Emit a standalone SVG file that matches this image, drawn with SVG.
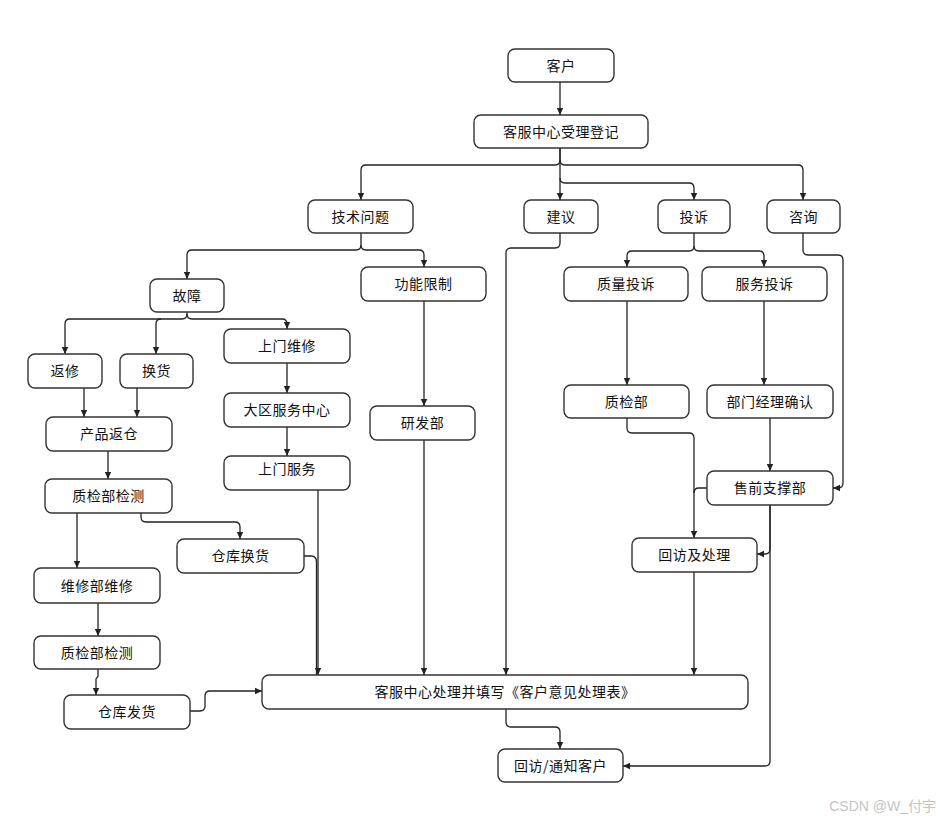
<svg xmlns="http://www.w3.org/2000/svg" width="940" height="821" viewBox="0 0 940 821">
<style>
.n rect{fill:#fff;stroke:#333;stroke-width:1.4}
.n text{font-family:"Noto Sans CJK SC","Liberation Sans",sans-serif;font-size:14px;fill:#111;text-anchor:middle;letter-spacing:0.5px}
#edges path{fill:none;stroke:#222;stroke-width:1.3}
.wm{font-family:"Liberation Sans","Noto Sans CJK SC",sans-serif;font-size:14px;fill:#c4c4c4;text-anchor:end}
</style>
<defs>
<marker id="a" markerUnits="userSpaceOnUse" markerWidth="8" markerHeight="8" refX="7" refY="4" orient="auto">
<path d="M0,0.8 L7,4 L0,7.2 z" fill="#222"/>
</marker>
</defs>
<rect width="940" height="821" fill="#fff"/>
<g id="edges">
<path d="M560,82 V115" marker-end="url(#a)"/>
<path d="M560,148 V160 Q560,165 555,165 H366 Q361,165 361,170 V200" marker-end="url(#a)"/>
<path d="M560,160 Q560,165 565,165 H798 Q803,165 803,170 V200" marker-end="url(#a)"/>
<path d="M560,148 V200" marker-end="url(#a)"/>
<path d="M560,178 Q560,183 565,183 H689 Q694,183 694,188 V200" marker-end="url(#a)"/>
<path d="M361,233 V245 Q361,250 356,250 H192 Q187,250 187,255 V279" marker-end="url(#a)"/>
<path d="M361,245 Q361,250 366,250 H419 Q424,250 424,255 V267" marker-end="url(#a)"/>
<path d="M187,312 V314 Q187,319 182,319 H70 Q65,319 65,324 V354" marker-end="url(#a)"/>
<path d="M161,319 Q156,319 156,324 V354" marker-end="url(#a)"/>
<path d="M187,314 Q187,319 192,319 H282 Q287,319 287,324 V329" marker-end="url(#a)"/>
<path d="M84,388 V417" marker-end="url(#a)"/>
<path d="M137,388 V417" marker-end="url(#a)"/>
<path d="M287,363 V393" marker-end="url(#a)"/>
<path d="M287,427 V456" marker-end="url(#a)"/>
<path d="M424,301 V406" marker-end="url(#a)"/>
<path d="M108,451 V479" marker-end="url(#a)"/>
<path d="M77,513 V568" marker-end="url(#a)"/>
<path d="M141,513 V517 Q141,522 146,522 H235 Q240,522 240,527 V539" marker-end="url(#a)"/>
<path d="M98,603 V636" marker-end="url(#a)"/>
<path d="M98,669 V676 L96,679 V695" marker-end="url(#a)"/>
<path d="M190,711 H200 Q205,711 205,706 V696 Q205,691 210,691 H262" marker-end="url(#a)"/>
<path d="M318,490 V675" marker-end="url(#a)"/>
<path d="M304,556 H311 Q316.5,556 316.5,562 V675"/>
<path d="M424,440 V675" marker-end="url(#a)"/>
<path d="M560,233 V243 Q560,248 555,248 H511 Q506,248 506,253 V675" marker-end="url(#a)"/>
<path d="M694,233 V246 Q694,251 689,251 H632 Q627,251 627,256 V267" marker-end="url(#a)"/>
<path d="M694,246 Q694,251 699,251 H759 Q764,251 764,256 V267" marker-end="url(#a)"/>
<path d="M803,233 V250 Q803,255 808,255 H838 Q843,255 843,260 V483 Q843,488 838,488 H833" marker-end="url(#a)"/>
<path d="M627,301 V385" marker-end="url(#a)"/>
<path d="M764,301 V385" marker-end="url(#a)"/>
<path d="M770,418 V471" marker-end="url(#a)"/>
<path d="M627,418 V428 Q627,433 632,433 H689 Q694,433 694,438 V538" marker-end="url(#a)"/>
<path d="M707,488 H699 Q694,488 694,493"/>
<path d="M770,505 V549 Q770,554 765,554 H757" marker-end="url(#a)"/>
<path d="M770,505 V761 Q770,766 765,766 H623" marker-end="url(#a)"/>
<path d="M694,572 V675" marker-end="url(#a)"/>
<path d="M506,709 V722 Q506,727 511,727 H555 Q560,727 560,732 V749" marker-end="url(#a)"/>
</g>
<g id="n1" class="n"><rect x="508" y="49" width="106" height="33" rx="7"/><text x="561" y="70.5">客户</text></g>
<g id="n2" class="n"><rect x="474" y="115" width="174" height="33" rx="7"/><text x="561" y="136.5">客服中心受理登记</text></g>
<g id="n3" class="n"><rect x="308" y="200" width="105" height="33" rx="7"/><text x="360.5" y="221.5">技术问题</text></g>
<g id="n4" class="n"><rect x="524" y="200" width="74" height="33" rx="7"/><text x="561" y="221.5">建议</text></g>
<g id="n5" class="n"><rect x="658" y="200" width="72" height="33" rx="7"/><text x="694" y="221.5">投诉</text></g>
<g id="n6" class="n"><rect x="767" y="200" width="73" height="33" rx="7"/><text x="803.5" y="221.5">咨询</text></g>
<g id="n7" class="n"><rect x="150" y="279" width="74" height="33" rx="7"/><text x="187" y="300.5">故障</text></g>
<g id="n8" class="n"><rect x="361" y="267" width="125" height="34" rx="7"/><text x="423.5" y="289">功能限制</text></g>
<g id="n9" class="n"><rect x="28" y="354" width="74" height="34" rx="7"/><text x="65" y="376">返修</text></g>
<g id="n10" class="n"><rect x="120" y="354" width="73" height="34" rx="7"/><text x="156.5" y="376">换货</text></g>
<g id="n11" class="n"><rect x="224" y="329" width="126" height="34" rx="7"/><text x="287" y="351">上门维修</text></g>
<g id="n12" class="n"><rect x="224" y="393" width="126" height="34" rx="7"/><text x="287" y="415">大区服务中心</text></g>
<g id="n13" class="n"><rect x="224" y="456" width="126" height="34" rx="7"/><text x="287" y="474">上门服务</text></g>
<g id="n14" class="n"><rect x="46" y="417" width="126" height="34" rx="7"/><text x="109" y="439">产品返仓</text></g>
<g id="n15" class="n"><rect x="370" y="406" width="105" height="34" rx="7"/><text x="422.5" y="428">研发部</text></g>
<g id="n16" class="n"><rect x="564" y="267" width="124" height="34" rx="7"/><text x="626" y="289">质量投诉</text></g>
<g id="n17" class="n"><rect x="702" y="267" width="125" height="34" rx="7"/><text x="764.5" y="289">服务投诉</text></g>
<g id="n18" class="n"><rect x="564" y="385" width="125" height="33" rx="7"/><text x="626.5" y="406.5">质检部</text></g>
<g id="n19" class="n"><rect x="707" y="385" width="126" height="33" rx="7"/><text x="770" y="406.5">部门经理确认</text></g>
<g id="n20" class="n"><rect x="707" y="471" width="126" height="34" rx="7"/><text x="770" y="493">售前支撑部</text></g>
<g id="n21" class="n"><rect x="632" y="538" width="125" height="34" rx="7"/><text x="694.5" y="560">回访及处理</text></g>
<g id="n22" class="n"><rect x="45" y="479" width="127" height="34" rx="7"/><text x="108.5" y="501">质检部检测</text></g>
<g id="n23" class="n"><rect x="177" y="539" width="127" height="34" rx="7"/><text x="240.5" y="561">仓库换货</text></g>
<g id="n24" class="n"><rect x="34" y="568" width="126" height="35" rx="7"/><text x="97" y="590.5">维修部维修</text></g>
<g id="n25" class="n"><rect x="34" y="636" width="126" height="33" rx="7"/><text x="97" y="657.5">质检部检测</text></g>
<g id="n26" class="n"><rect x="64" y="695" width="126" height="34" rx="7"/><text x="127" y="717">仓库发货</text></g>
<g id="n27" class="n"><rect x="262" y="675" width="486" height="34" rx="7"/><text x="505" y="697">客服中心处理并填写《客户意见处理表》</text></g>
<g id="n28" class="n"><rect x="498" y="749" width="125" height="33" rx="7"/><text x="560.5" y="770.5">回访/通知客户</text></g>
<text class="wm" x="936" y="811">CSDN @W_付宇</text>
</svg>
